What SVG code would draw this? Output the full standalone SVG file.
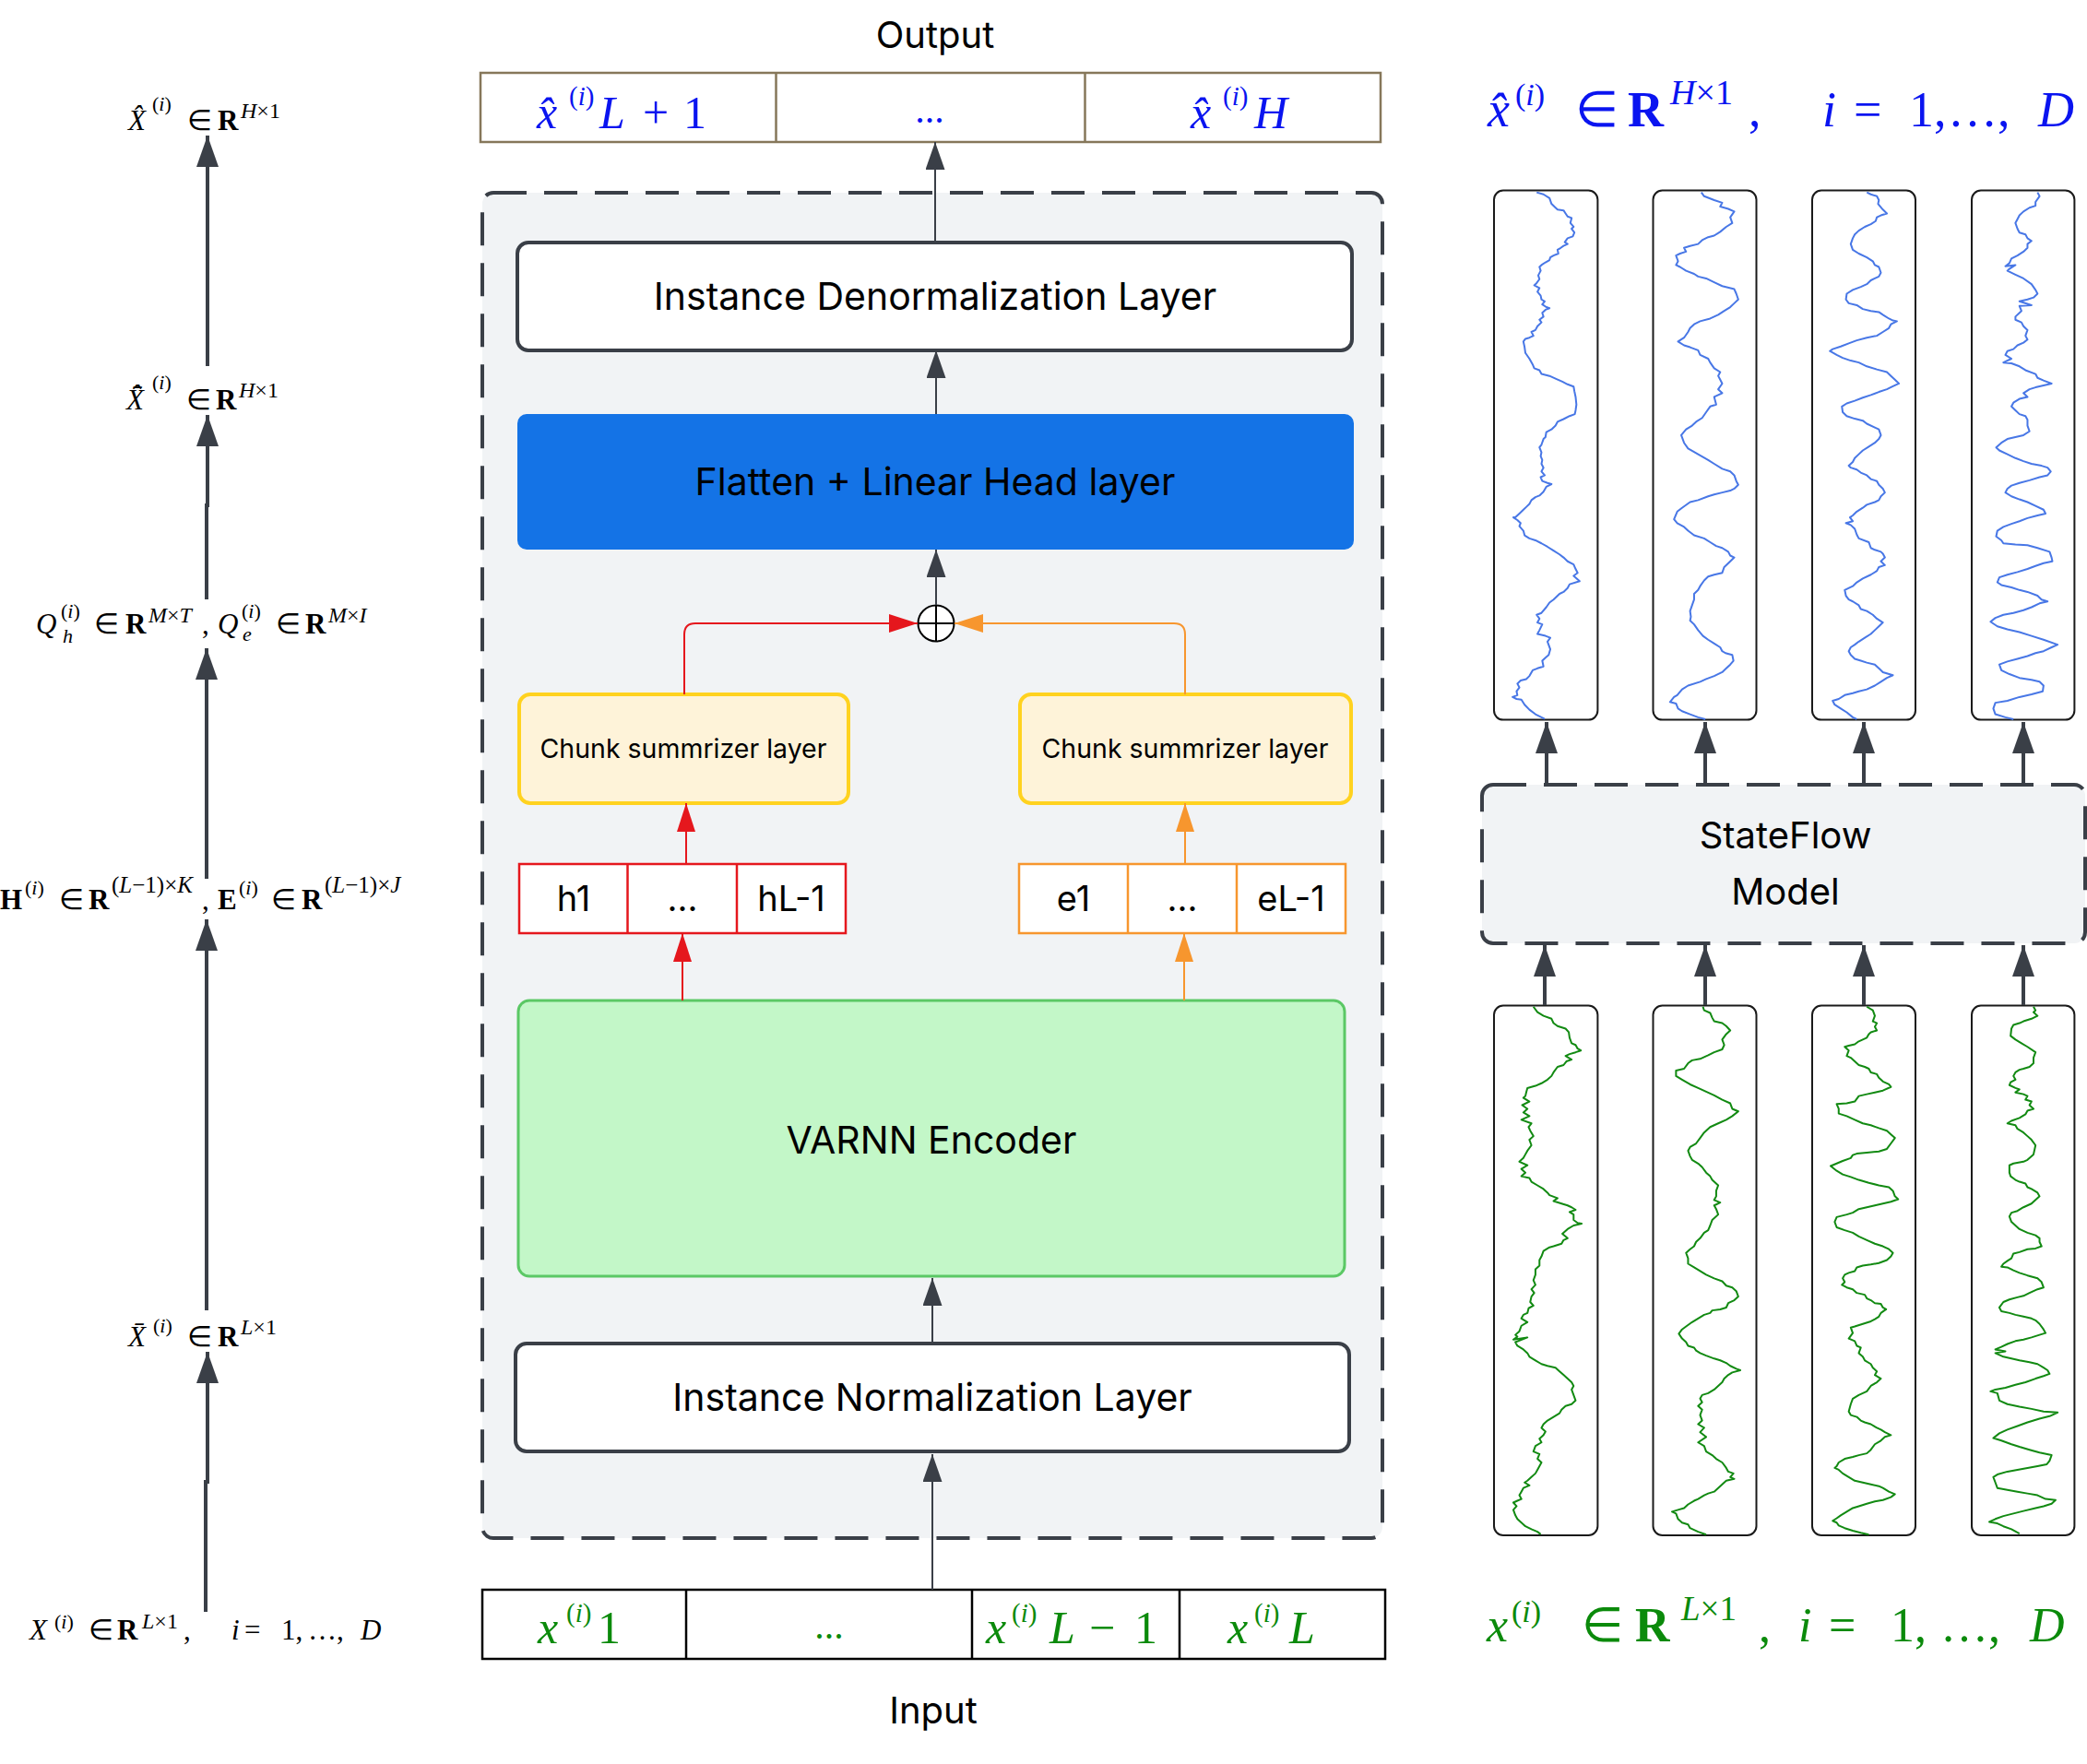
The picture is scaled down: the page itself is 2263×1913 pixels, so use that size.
<svg xmlns="http://www.w3.org/2000/svg" width="2263" height="1913" viewBox="0 0 2263 1913">
<style>
.sans{font-family:Inter,"Liberation Sans",sans-serif;fill:#000}
.m{font-family:"Liberation Serif","Times New Roman",serif;fill:#000}
.i{font-style:italic}
.b{font-weight:bold}
.blue{fill:#0a14f0}
.green{fill:#0b8a0b}
.lay{fill:#fff;stroke:#3a3f47;stroke-width:4}
.cont{fill:#f1f3f5;stroke:#3a3f47;stroke-width:4;stroke-dasharray:36 19}
.con{fill:none;stroke:#3a3f47;stroke-width:2}
.conT{fill:none;stroke:#3a3f47;stroke-width:4}
.red{fill:none;stroke:#e5171d;stroke-width:2}
.org{fill:none;stroke:#f7962e;stroke-width:2}
.tsbox{fill:#fff;stroke:#1a1a1a;stroke-width:2}
.wb{fill:none;stroke:#4877e6;stroke-width:2;stroke-linejoin:round}
.wg{fill:none;stroke:#128a12;stroke-width:2;stroke-linejoin:round}
</style>
<defs>
<marker id="ad" markerUnits="userSpaceOnUse" markerWidth="30" markerHeight="21" refX="30" refY="10.5" orient="auto"><path d="M0,0 L30,10.5 L0,21 z" fill="#3a3f47"/></marker>
<marker id="adb" markerUnits="userSpaceOnUse" markerWidth="34" markerHeight="24" refX="34" refY="12" orient="auto"><path d="M0,0 L34,12 L0,24 z" fill="#3a3f47"/></marker>
<marker id="ar" markerUnits="userSpaceOnUse" markerWidth="31" markerHeight="20" refX="31" refY="10" orient="auto"><path d="M0,0 L31,10 L0,20 z" fill="#e5171d"/></marker>
<marker id="ao" markerUnits="userSpaceOnUse" markerWidth="31" markerHeight="20" refX="31" refY="10" orient="auto"><path d="M0,0 L31,10 L0,20 z" fill="#f7962e"/></marker>
</defs>
<rect width="2263" height="1913" fill="#fff"/>

<!-- Left column labels -->
<g id="lbl-xhat">
<text class="m" font-size="31"><tspan x="139" y="141" class="i">X̂</tspan><tspan x="165" y="120" font-size="22">(<tspan class="i">i</tspan>)</tspan><tspan x="203" y="141">∈</tspan><tspan x="236" y="141" class="b">R</tspan><tspan x="261" y="128" font-size="24"><tspan class="i">H</tspan>×1</tspan></text>
</g>
<g id="lbl-xhatbar">
<text class="m" font-size="31"><tspan x="137" y="444" class="i">X̄̂</tspan><tspan x="165" y="422" font-size="22">(<tspan class="i">i</tspan>)</tspan><tspan x="202" y="444">∈</tspan><tspan x="234" y="444" class="b">R</tspan><tspan x="259" y="431" font-size="24"><tspan class="i">H</tspan>×1</tspan></text>
</g>
<g id="lbl-q">
<text class="m" font-size="31"><tspan x="39" y="687" class="i">Q</tspan><tspan x="66" y="670" font-size="22">(<tspan class="i">i</tspan>)</tspan><tspan x="68" y="697" font-size="22" class="i">h</tspan><tspan x="102" y="687">∈</tspan><tspan x="136" y="687" class="b">R</tspan><tspan x="161" y="675" font-size="24" class="i">M<tspan font-style="normal">×</tspan>T</tspan><tspan x="219" y="687">,</tspan><tspan x="236" y="687" class="i">Q</tspan><tspan x="262" y="670" font-size="22">(<tspan class="i">i</tspan>)</tspan><tspan x="263" y="695" font-size="22" class="i">e</tspan><tspan x="299" y="687">∈</tspan><tspan x="331" y="687" class="b">R</tspan><tspan x="356" y="675" font-size="24" class="i">M<tspan font-style="normal">×</tspan>I</tspan></text>
</g>
<g id="lbl-he">
<text class="m" font-size="31"><tspan x="0" y="986" class="b">H</tspan><tspan x="27" y="970" font-size="22">(<tspan class="i">i</tspan>)</tspan><tspan x="64" y="986">∈</tspan><tspan x="96" y="986" class="b">R</tspan><tspan x="121" y="968" font-size="25">(<tspan class="i">L</tspan>−1)×<tspan class="i">K</tspan></tspan><tspan x="219" y="986">,</tspan><tspan x="236" y="986" class="b">E</tspan><tspan x="259" y="970" font-size="22">(<tspan class="i">i</tspan>)</tspan><tspan x="294" y="986">∈</tspan><tspan x="327" y="986" class="b">R</tspan><tspan x="352" y="968" font-size="25">(<tspan class="i">L</tspan>−1)×<tspan class="i">J</tspan></tspan></text>
</g>
<g id="lbl-xbar">
<text class="m" font-size="31"><tspan x="139" y="1460" class="i">X̄</tspan><tspan x="166" y="1445" font-size="22">(<tspan class="i">i</tspan>)</tspan><tspan x="203" y="1460">∈</tspan><tspan x="236" y="1460" class="b">R</tspan><tspan x="261" y="1447" font-size="24"><tspan class="i">L</tspan>×1</tspan></text>
</g>
<g id="lbl-x">
<text class="m" font-size="31"><tspan x="32" y="1778" class="i">X</tspan><tspan x="59" y="1766" font-size="22">(<tspan class="i">i</tspan>)</tspan><tspan x="96" y="1778">∈</tspan><tspan x="127" y="1778" class="b">R</tspan><tspan x="154" y="1766" font-size="24"><tspan class="i">L</tspan>×1</tspan><tspan x="199" y="1778">,</tspan><tspan x="251" y="1778" class="i">i</tspan><tspan x="265" y="1778">=</tspan><tspan x="305" y="1778">1,</tspan><tspan x="334" y="1778">…,</tspan><tspan x="391" y="1778" class="i">D</tspan></text>
</g>

<!-- Output / Input labels -->
<g id="output-label"><text class="sans" x="1014" y="52" font-size="40" text-anchor="middle">Output</text></g>
<g id="input-label"><text class="sans" x="1012" y="1869" font-size="40" text-anchor="middle">Input</text></g>

<!-- Output vector -->
<g id="output-vector">
<rect x="521" y="79" width="976" height="75" fill="#fff" stroke="#86775a" stroke-width="2.5"/>
<line x1="841.5" y1="79" x2="841.5" y2="154" stroke="#86775a" stroke-width="2.5"/>
<line x1="1176.5" y1="79" x2="1176.5" y2="154" stroke="#86775a" stroke-width="2.5"/>
<text class="m blue" font-size="50"><tspan x="582" y="139" class="i">x̂</tspan><tspan x="617" y="114" font-size="29">(<tspan class="i">i</tspan>)</tspan><tspan x="650" y="139" class="i">L</tspan><tspan x="697" y="139">+</tspan><tspan x="741" y="139">1</tspan></text>
<text class="m blue" x="1008" y="133" font-size="42" text-anchor="middle">...</text>
<text class="m blue" font-size="50"><tspan x="1291" y="139" class="i">x̂</tspan><tspan x="1326" y="114" font-size="29">(<tspan class="i">i</tspan>)</tspan><tspan x="1360" y="139" class="i">H</tspan></text>
</g>

<!-- Container -->
<g id="container"><rect class="cont" x="523" y="209" width="976" height="1459" rx="12"/></g>

<g id="denorm">
<rect class="lay" x="561" y="263" width="905" height="117" rx="12"/>
<text class="sans" x="1014" y="336" font-size="41" text-anchor="middle">Instance Denormalization Layer</text>
</g>
<g id="flatten">
<rect x="561" y="449" width="907" height="147" rx="10" fill="#1473e6"/>
<text class="sans" x="1014" y="537" font-size="41" text-anchor="middle">Flatten + Linear Head layer</text>
</g>
<g id="sum">
<circle cx="1015" cy="676" r="19.5" fill="#fff" stroke="#000" stroke-width="2"/>
<line x1="1015" y1="656.5" x2="1015" y2="695.5" stroke="#000" stroke-width="2"/>
<line x1="995.5" y1="676" x2="1034.5" y2="676" stroke="#000" stroke-width="2"/>
</g>
<g id="chunk-h">
<rect x="563" y="753" width="357" height="118" rx="12" fill="#fef3d9" stroke="#ffd21f" stroke-width="4"/>
<text class="sans" x="741" y="822" font-size="28.5" text-anchor="middle">Chunk summrizer layer</text>
</g>
<g id="chunk-e">
<rect x="1106" y="753" width="359" height="118" rx="12" fill="#fef3d9" stroke="#ffd21f" stroke-width="4"/>
<text class="sans" x="1285" y="822" font-size="28.5" text-anchor="middle">Chunk summrizer layer</text>
</g>
<g id="h-vector">
<rect x="563" y="937" width="354" height="75" fill="#fff" stroke="#e5171d" stroke-width="2.5"/>
<line x1="680.5" y1="937" x2="680.5" y2="1012" stroke="#e5171d" stroke-width="2.5"/>
<line x1="799" y1="937" x2="799" y2="1012" stroke="#e5171d" stroke-width="2.5"/>
<text class="sans" x="622" y="988" font-size="38" text-anchor="middle">h1</text>
<text class="sans" x="740" y="988" font-size="38" text-anchor="middle">...</text>
<text class="sans" x="858" y="988" font-size="38" text-anchor="middle">hL-1</text>
</g>
<g id="e-vector">
<rect x="1105" y="937" width="354" height="75" fill="#fff" stroke="#f7962e" stroke-width="2.5"/>
<line x1="1223" y1="937" x2="1223" y2="1012" stroke="#f7962e" stroke-width="2.5"/>
<line x1="1341" y1="937" x2="1341" y2="1012" stroke="#f7962e" stroke-width="2.5"/>
<text class="sans" x="1164" y="988" font-size="38" text-anchor="middle">e1</text>
<text class="sans" x="1282" y="988" font-size="38" text-anchor="middle">...</text>
<text class="sans" x="1400" y="988" font-size="38" text-anchor="middle">eL-1</text>
</g>
<g id="varnn">
<rect x="562" y="1085" width="896" height="299" rx="12" fill="#c3f7c8" stroke="#5bc865" stroke-width="3"/>
<text class="sans" x="1010" y="1251" font-size="41" text-anchor="middle">VARNN Encoder</text>
</g>
<g id="norm">
<rect class="lay" x="559" y="1457" width="904" height="117" rx="12"/>
<text class="sans" x="1011" y="1530" font-size="41" text-anchor="middle">Instance Normalization Layer</text>
</g>

<!-- Input vector -->
<g id="input-vector">
<rect x="523" y="1724" width="979" height="75" fill="#fff" stroke="#000" stroke-width="2.5"/>
<line x1="744" y1="1724" x2="744" y2="1799" stroke="#000" stroke-width="2.5"/>
<line x1="1054" y1="1724" x2="1054" y2="1799" stroke="#000" stroke-width="2.5"/>
<line x1="1279" y1="1724" x2="1279" y2="1799" stroke="#000" stroke-width="2.5"/>
<text class="m green" font-size="50"><tspan x="583" y="1782" class="i">x</tspan><tspan x="614" y="1759" font-size="29">(<tspan class="i">i</tspan>)</tspan><tspan x="648" y="1782">1</tspan></text>
<text class="m green" x="899" y="1777" font-size="42" text-anchor="middle">...</text>
<text class="m green" font-size="50"><tspan x="1069" y="1782" class="i">x</tspan><tspan x="1097" y="1759" font-size="29">(<tspan class="i">i</tspan>)</tspan><tspan x="1138" y="1782" class="i">L</tspan><tspan x="1181" y="1782">−</tspan><tspan x="1230" y="1782">1</tspan></text>
<text class="m green" font-size="50"><tspan x="1331" y="1782" class="i">x</tspan><tspan x="1360" y="1759" font-size="29">(<tspan class="i">i</tspan>)</tspan><tspan x="1398" y="1782" class="i">L</tspan></text>
</g>

<!-- Right column -->
<g id="out-formula">
<text class="m blue" font-size="54"><tspan x="1613" y="137" class="i">x̂</tspan><tspan x="1643" y="114" font-size="34">(<tspan class="i">i</tspan>)</tspan><tspan x="1708" y="137">∈</tspan><tspan x="1765" y="137" class="b">R</tspan><tspan x="1811" y="113" font-size="38"><tspan class="i">H</tspan>×1</tspan><tspan x="1896" y="137">,</tspan><tspan x="1976" y="137" class="i">i</tspan><tspan x="2010" y="137">=</tspan><tspan x="2070" y="137">1,</tspan><tspan x="2112" y="137">…,</tspan><tspan x="2210" y="137" class="i">D</tspan></text>
</g>
<g id="in-formula">
<text class="m green" font-size="52"><tspan x="1612" y="1780" class="i">x</tspan><tspan x="1639" y="1759" font-size="34">(<tspan class="i">i</tspan>)</tspan><tspan x="1715" y="1780">∈</tspan><tspan x="1773" y="1780" class="b">R</tspan><tspan x="1823" y="1757" font-size="37"><tspan class="i">L</tspan>×1</tspan><tspan x="1907" y="1780">,</tspan><tspan x="1950" y="1780" class="i">i</tspan><tspan x="1983" y="1780">=</tspan><tspan x="2050" y="1780">1,</tspan><tspan x="2104" y="1780">…,</tspan><tspan x="2201" y="1780" class="i">D</tspan></text>
</g>

<g id="stateflow">
<rect class="cont" x="1607" y="851" width="654" height="172" rx="12"/>
<text class="sans" x="1936" y="920" font-size="40" text-anchor="middle">StateFlow</text>
<text class="sans" x="1936" y="981" font-size="40" text-anchor="middle">Model</text>
</g>

<g id="out-series">
<rect class="tsbox" x="1620" y="206.6" width="112.4" height="574" rx="10"/>
<rect class="tsbox" x="1792.5" y="206.6" width="112" height="574" rx="10"/>
<rect class="tsbox" x="1965" y="206.6" width="112" height="574" rx="10"/>
<rect class="tsbox" x="2138" y="206.6" width="111.4" height="574" rx="10"/>
<g transform="translate(1580,190) scale(0.43554,0.41459)">
<polyline class="wb" vector-effect="non-scaling-stroke" points="198,45 215,50 230,60 235,75 245,85 250,90 265,92 270,100 275,108 285,112 282,125 290,135 285,140 292,150 288,160 275,165 268,175 275,180 265,185 258,190 250,195 252,205 240,210 232,215 230,222 220,228 210,235 205,240 208,250 202,262 205,272 198,282 192,288 205,295 200,305 208,315 210,325 218,330 212,338 222,345 230,348 220,352 212,360 215,370 205,378 210,385 200,395 195,405 185,410 190,420 180,425 170,428 165,435 168,450 170,465 180,480 188,495 192,505 205,510 210,520 230,525 245,532 262,540 275,547 290,553 292,565 295,580 297,600 295,615 293,625 280,630 265,638 250,645 245,655 235,665 222,672 220,685 215,690 210,705 205,712 210,725 208,735 212,745 210,755 215,765 210,775 218,785 208,790 212,800 225,805 235,808 222,815 215,828 205,838 195,842 185,850 180,860 172,868 165,875 155,885 145,895 140,895 150,902 158,910 155,918 165,930 168,942 180,950 195,955 210,963 225,972 240,982 255,992 265,1000 275,1010 290,1018 295,1030 300,1040 290,1048 305,1062 280,1070 275,1080 265,1090 255,1095 240,1110 230,1118 222,1130 210,1145 198,1150 205,1160 200,1170 212,1175 205,1190 200,1200 220,1205 232,1210 225,1220 232,1240 228,1255 220,1262 212,1270 215,1285 200,1290 188,1295 180,1310 172,1318 158,1322 150,1330 155,1340 148,1350 150,1360 138,1365 148,1370 160,1372 168,1385 180,1398 195,1410 210,1418 218,1422"/>
<polyline class="wb" vector-effect="non-scaling-stroke" points="608,45 615,55 640,65 660,72 655,82 675,88 690,95 680,110 685,125 670,135 655,148 640,158 625,162 610,170 600,180 580,185 565,190 570,200 555,205 545,210 550,225 545,235 555,240 570,250 590,258 600,265 620,270 640,280 660,290 690,298 695,310 700,325 690,335 680,345 665,355 650,365 630,375 605,382 590,390 580,400 575,410 565,425 550,435 565,445 580,450 600,458 605,470 625,480 630,490 640,505 655,515 650,525 655,535 660,545 650,560 660,570 640,580 645,600 630,605 620,620 610,635 595,645 585,655 570,665 558,680 565,700 575,715 600,730 625,745 640,755 660,768 680,775 690,785 695,800 700,810 690,820 680,825 660,830 640,835 625,840 600,850 580,855 560,870 548,880 540,900 548,910 565,920 575,930 590,942 615,950 630,960 645,970 660,975 675,985 680,995 690,1000 680,1010 665,1025 660,1040 640,1045 625,1050 615,1060 605,1075 600,1085 590,1095 590,1110 585,1125 580,1140 582,1155 580,1165 590,1175 600,1190 612,1205 625,1215 640,1225 655,1235 660,1245 668,1250 685,1255 688,1270 680,1280 670,1290 660,1300 640,1310 620,1318 605,1325 575,1335 560,1345 548,1360 540,1365 530,1378 545,1382 550,1395 560,1402 580,1410 600,1418 618,1423"/>
<polyline class="wb" vector-effect="non-scaling-stroke" points="1020,45 1030,50 1045,55 1050,65 1048,75 1060,90 1070,100 1055,105 1045,110 1042,120 1030,128 1015,135 1000,145 990,155 985,165 980,180 985,195 1000,205 1020,215 1035,225 1040,235 1050,240 1055,255 1050,265 1040,270 1030,275 1020,285 1005,292 985,300 970,310 968,325 975,335 995,340 1010,350 1030,355 1050,358 1060,365 1075,375 1085,380 1095,382 1080,390 1075,400 1060,410 1045,420 1020,425 995,432 975,440 955,448 935,455 928,460 945,470 960,478 980,485 1000,490 1020,500 1045,508 1070,515 1080,525 1090,535 1100,545 1085,552 1070,560 1050,567 1030,575 1010,582 990,590 970,597 958,605 960,620 970,630 990,637 1010,642 1020,650 1040,660 1050,665 1055,680 1050,690 1040,700 1025,710 1010,720 1000,730 990,740 985,750 975,760 980,765 995,770 1005,778 1020,785 1030,795 1045,800 1050,810 1060,820 1065,830 1055,840 1050,850 1040,855 1020,862 1010,870 995,880 985,890 978,895 985,905 968,910 980,915 990,925 995,940 1000,950 1025,960 1030,975 1040,980 1055,985 1060,990 1065,1000 1055,1010 1065,1020 1050,1025 1045,1035 1030,1045 1010,1055 995,1065 985,1075 965,1085 968,1100 975,1110 985,1115 1000,1125 1005,1135 1020,1140 1035,1150 1045,1160 1060,1170 1050,1180 1040,1190 1030,1200 1015,1210 1000,1220 990,1228 980,1235 975,1245 980,1255 990,1265 1005,1270 1020,1275 1040,1280 1050,1290 1060,1300 1085,1308 1070,1315 1055,1325 1040,1335 1020,1345 1000,1350 985,1355 965,1360 950,1370 935,1375 940,1385 955,1395 970,1405 985,1418 995,1423"/>
<polyline class="wb" vector-effect="non-scaling-stroke" points="1445,45 1450,55 1440,70 1440,80 1425,85 1410,95 1400,105 1395,115 1390,125 1395,140 1400,150 1415,155 1420,165 1430,172 1420,180 1420,190 1410,200 1395,210 1380,218 1375,230 1365,238 1390,235 1375,245 1370,250 1390,260 1410,270 1430,285 1440,300 1445,310 1435,320 1420,325 1400,330 1430,340 1400,342 1405,355 1390,370 1390,378 1405,385 1410,395 1420,405 1415,420 1420,430 1410,438 1395,445 1385,455 1370,460 1365,470 1380,480 1360,490 1380,492 1400,500 1415,510 1440,520 1445,530 1460,537 1480,545 1460,550 1440,555 1425,560 1410,570 1420,580 1400,585 1385,595 1380,605 1390,615 1400,625 1415,630 1420,640 1420,655 1425,670 1410,680 1390,685 1370,690 1355,700 1342,712 1350,720 1370,730 1390,740 1410,748 1430,755 1455,760 1470,765 1478,775 1470,785 1450,790 1425,798 1400,805 1380,812 1370,820 1365,830 1380,840 1400,848 1420,855 1440,865 1460,875 1465,885 1445,890 1420,897 1400,905 1380,912 1360,920 1345,930 1342,945 1355,955 1360,963 1390,966 1420,968 1445,975 1475,985 1480,1000 1482,1010 1460,1015 1440,1022 1420,1030 1395,1038 1370,1045 1350,1052 1345,1065 1355,1072 1380,1078 1400,1085 1420,1090 1445,1100 1455,1110 1470,1115 1450,1120 1430,1130 1410,1138 1385,1145 1360,1150 1340,1158 1328,1168 1345,1180 1370,1188 1400,1195 1430,1205 1460,1215 1495,1228 1480,1235 1460,1245 1440,1250 1420,1258 1395,1265 1370,1272 1350,1280 1355,1295 1375,1305 1400,1315 1430,1320 1450,1325 1460,1335 1458,1350 1430,1358 1400,1365 1370,1375 1340,1380 1335,1395 1340,1410 1365,1418 1385,1423"/>
</g>
</g>

<g id="in-series">
<rect class="tsbox" x="1620" y="1090.6" width="112.4" height="574.4" rx="10"/>
<rect class="tsbox" x="1792.5" y="1090.6" width="112" height="574.4" rx="10"/>
<rect class="tsbox" x="1965" y="1090.6" width="112" height="574.4" rx="10"/>
<rect class="tsbox" x="2138" y="1090.6" width="111.4" height="574.4" rx="10"/>
<g transform="translate(1580,1070) scale(0.43554,0.39541)">
<polyline class="wg" vector-effect="non-scaling-stroke" points="190,55 200,70 215,80 235,88 240,100 250,108 270,115 278,125 280,140 285,155 295,160 300,170 308,175 295,180 280,185 270,190 285,200 272,205 265,215 250,220 240,235 235,245 225,255 210,265 195,272 175,278 172,290 170,300 165,305 180,315 162,325 175,335 165,345 180,355 160,365 185,375 178,385 182,395 190,410 180,420 185,435 175,450 170,460 165,470 155,480 175,490 160,500 170,510 160,520 180,525 185,535 200,545 215,555 225,565 230,572 250,580 240,588 260,595 275,600 285,605 295,612 280,618 290,625 290,640 300,648 310,650 290,655 275,665 262,678 275,690 265,695 260,705 240,712 230,715 215,725 210,740 205,750 205,765 195,775 195,790 190,805 195,818 185,830 192,840 185,850 182,865 190,875 178,882 175,895 165,900 160,910 175,920 160,930 155,945 145,955 150,960 140,968 175,962 145,975 150,985 165,995 175,1005 180,1015 195,1025 210,1035 225,1040 245,1045 255,1055 265,1065 275,1075 285,1085 290,1095 285,1105 290,1120 295,1135 285,1145 270,1150 260,1160 255,1170 240,1180 225,1190 215,1200 210,1210 220,1220 215,1230 205,1240 210,1250 195,1260 190,1275 205,1282 200,1295 210,1305 205,1315 200,1325 195,1335 185,1345 175,1355 168,1360 180,1368 165,1375 160,1385 155,1395 160,1405 150,1410 140,1415 148,1425 140,1435 145,1450 150,1460 160,1470 170,1480 185,1488 200,1495 208,1502"/>
<polyline class="wg" vector-effect="non-scaling-stroke" points="612,55 615,65 630,72 635,85 640,95 660,100 670,108 680,120 670,130 660,145 665,160 660,172 640,180 625,188 605,198 585,202 575,210 565,225 545,230 545,245 560,255 580,268 600,278 620,288 640,298 660,310 680,320 685,335 700,342 685,355 670,365 650,375 630,385 615,400 605,415 595,430 580,440 575,450 580,465 585,475 600,485 610,495 620,510 630,520 635,530 650,545 645,560 645,575 640,585 655,592 640,600 645,610 650,625 635,640 630,655 625,668 615,675 605,690 595,700 590,712 580,720 570,730 575,745 575,760 590,770 605,780 620,790 640,800 660,808 670,820 685,825 695,835 700,850 690,860 675,868 670,880 655,885 635,888 630,895 615,900 600,910 585,920 570,932 560,940 552,952 560,965 570,975 575,985 590,990 595,998 605,1005 620,1012 640,1020 655,1025 670,1032 680,1040 695,1048 705,1052 685,1058 675,1065 665,1075 660,1085 650,1095 640,1105 625,1115 610,1120 605,1130 610,1140 600,1150 610,1160 605,1175 610,1190 600,1200 615,1210 605,1222 620,1235 600,1250 615,1260 620,1275 635,1285 645,1295 660,1305 670,1320 675,1330 688,1335 680,1345 690,1350 670,1355 660,1365 650,1375 640,1385 625,1390 615,1395 600,1405 590,1410 575,1420 565,1430 550,1435 535,1440 545,1445 550,1460 560,1470 575,1475 580,1485 600,1495 620,1503"/>
<polyline class="wg" vector-effect="non-scaling-stroke" points="1020,55 1035,65 1040,80 1035,95 1045,100 1040,110 1045,120 1030,125 1025,130 1020,140 1000,150 990,158 975,162 965,165 975,175 970,190 980,195 990,205 1000,215 1015,220 1025,225 1030,235 1045,240 1050,250 1060,260 1075,268 1080,275 1060,285 1040,290 1020,295 1000,300 990,315 970,320 945,322 950,335 950,348 970,355 990,365 1010,375 1030,380 1050,388 1070,395 1080,405 1090,415 1080,430 1070,445 1050,452 1020,455 995,458 985,462 980,470 960,478 945,485 930,492 945,505 960,515 980,522 1000,530 1025,538 1050,545 1075,550 1085,560 1090,575 1098,583 1080,590 1060,595 1040,600 1020,605 1000,610 985,620 970,625 945,632 940,645 945,660 965,668 985,675 1000,685 1020,695 1040,705 1060,712 1075,720 1085,730 1080,740 1070,750 1050,758 1030,762 1010,765 995,770 990,780 975,785 965,790 960,800 965,810 958,818 970,825 985,830 995,840 1015,845 1020,855 1030,860 1040,868 1055,870 1060,880 1068,885 1055,895 1050,905 1040,912 1030,918 1010,925 990,932 980,935 985,950 975,965 990,972 995,985 1005,990 1000,1005 1010,1015 1015,1025 1030,1035 1035,1045 1045,1055 1040,1065 1055,1075 1045,1085 1030,1095 1020,1110 1000,1120 985,1130 980,1145 975,1165 980,1175 995,1180 1005,1190 1015,1195 1030,1200 1045,1210 1055,1215 1065,1222 1080,1230 1065,1235 1055,1245 1040,1255 1030,1270 1020,1280 1000,1285 985,1290 965,1295 950,1305 945,1315 940,1320 950,1325 960,1335 975,1345 990,1355 1010,1360 1030,1365 1050,1370 1060,1375 1075,1385 1090,1392 1080,1400 1060,1408 1040,1412 1020,1418 1000,1425 985,1430 970,1440 955,1450 945,1458 935,1465 945,1470 950,1478 965,1485 985,1492 1005,1498 1025,1503"/>
<polyline class="wg" vector-effect="non-scaling-stroke" points="1435,55 1440,65 1435,70 1445,80 1430,88 1410,95 1400,100 1385,105 1380,115 1378,135 1390,145 1405,155 1420,165 1440,180 1435,195 1435,210 1425,220 1410,225 1400,228 1390,235 1385,245 1390,255 1378,262 1375,270 1390,278 1400,282 1390,290 1410,295 1420,300 1415,310 1430,315 1425,325 1435,335 1420,340 1415,350 1400,360 1380,368 1370,375 1390,380 1395,390 1410,400 1420,410 1430,420 1440,435 1438,445 1435,460 1420,475 1410,480 1385,485 1375,490 1375,510 1378,520 1390,530 1400,535 1415,540 1420,550 1430,555 1445,565 1450,575 1440,585 1430,595 1420,600 1410,605 1395,615 1380,620 1375,630 1380,645 1390,655 1400,665 1420,675 1440,682 1450,690 1450,700 1455,712 1440,718 1420,720 1400,728 1385,732 1380,745 1370,752 1360,760 1355,768 1370,770 1385,778 1400,785 1420,792 1445,800 1455,810 1460,825 1445,830 1425,840 1410,848 1395,852 1375,858 1360,865 1350,880 1355,890 1375,895 1390,900 1410,905 1430,910 1440,915 1450,925 1460,940 1465,950 1450,955 1430,962 1410,968 1390,972 1370,980 1355,988 1340,995 1365,1000 1340,1005 1360,1015 1380,1020 1400,1025 1425,1030 1445,1035 1460,1045 1470,1052 1475,1062 1460,1068 1440,1075 1415,1085 1390,1092 1365,1100 1340,1105 1328,1110 1345,1115 1350,1135 1370,1145 1400,1152 1430,1158 1460,1165 1495,1168 1475,1178 1450,1185 1420,1195 1395,1205 1370,1215 1350,1225 1335,1238 1355,1245 1380,1255 1400,1262 1425,1270 1450,1278 1480,1285 1475,1300 1468,1310 1445,1315 1420,1320 1395,1325 1370,1330 1345,1338 1335,1345 1340,1360 1345,1375 1370,1380 1395,1385 1420,1390 1445,1395 1465,1405 1490,1408 1480,1418 1460,1425 1440,1430 1410,1438 1385,1445 1360,1452 1340,1460 1325,1468 1345,1472 1360,1480 1380,1488 1400,1500"/>
</g>
</g>

<!-- Connectors -->
<g id="connectors">
<path class="conT" d="M225,397 L225,147" marker-end="url(#adb)"/>
<path class="conT" d="M224,650 L224,548 L225,548 L225,450" marker-end="url(#adb)"/>
<path class="conT" d="M224,953 L224,703" marker-end="url(#adb)"/>
<path class="conT" d="M224,1421 L224,997" marker-end="url(#adb)"/>
<path class="conT" d="M223,1748 L223,1607 L225,1607 L225,1466" marker-end="url(#adb)"/>

<path class="con" d="M1014,263 L1014,154" marker-end="url(#ad)"/>
<path class="con" d="M1015,449 L1015,380" marker-end="url(#ad)"/>
<path class="con" d="M1015,656 L1015,596" marker-end="url(#ad)"/>
<path class="con" d="M1011,1457 L1011,1386" marker-end="url(#ad)"/>
<path class="con" d="M1011,1724 L1011,1577" marker-end="url(#ad)"/>

<path class="red" d="M742,753 L742,688 Q742,676 754,676 L995,676" marker-end="url(#ar)"/>
<path class="org" d="M1285,753 L1285,688 Q1285,676 1273,676 L1035,676" marker-end="url(#ao)"/>
<path class="red" d="M744,937 L744,871" marker-end="url(#ar)"/>
<path class="red" d="M740,1085 L740,1012" marker-end="url(#ar)"/>
<path class="org" d="M1285,937 L1285,871" marker-end="url(#ao)"/>
<path class="org" d="M1284,1085 L1284,1012" marker-end="url(#ao)"/>

<path class="conT" d="M1677,851 L1677,783" marker-end="url(#adb)"/>
<path class="conT" d="M1849,851 L1849,783" marker-end="url(#adb)"/>
<path class="conT" d="M2021,851 L2021,783" marker-end="url(#adb)"/>
<path class="conT" d="M2194,851 L2194,783" marker-end="url(#adb)"/>
<path class="conT" d="M1675,1090 L1675,1025" marker-end="url(#adb)"/>
<path class="conT" d="M1849,1090 L1849,1025" marker-end="url(#adb)"/>
<path class="conT" d="M2021,1090 L2021,1025" marker-end="url(#adb)"/>
<path class="conT" d="M2194,1090 L2194,1025" marker-end="url(#adb)"/>
</g>
</svg>
